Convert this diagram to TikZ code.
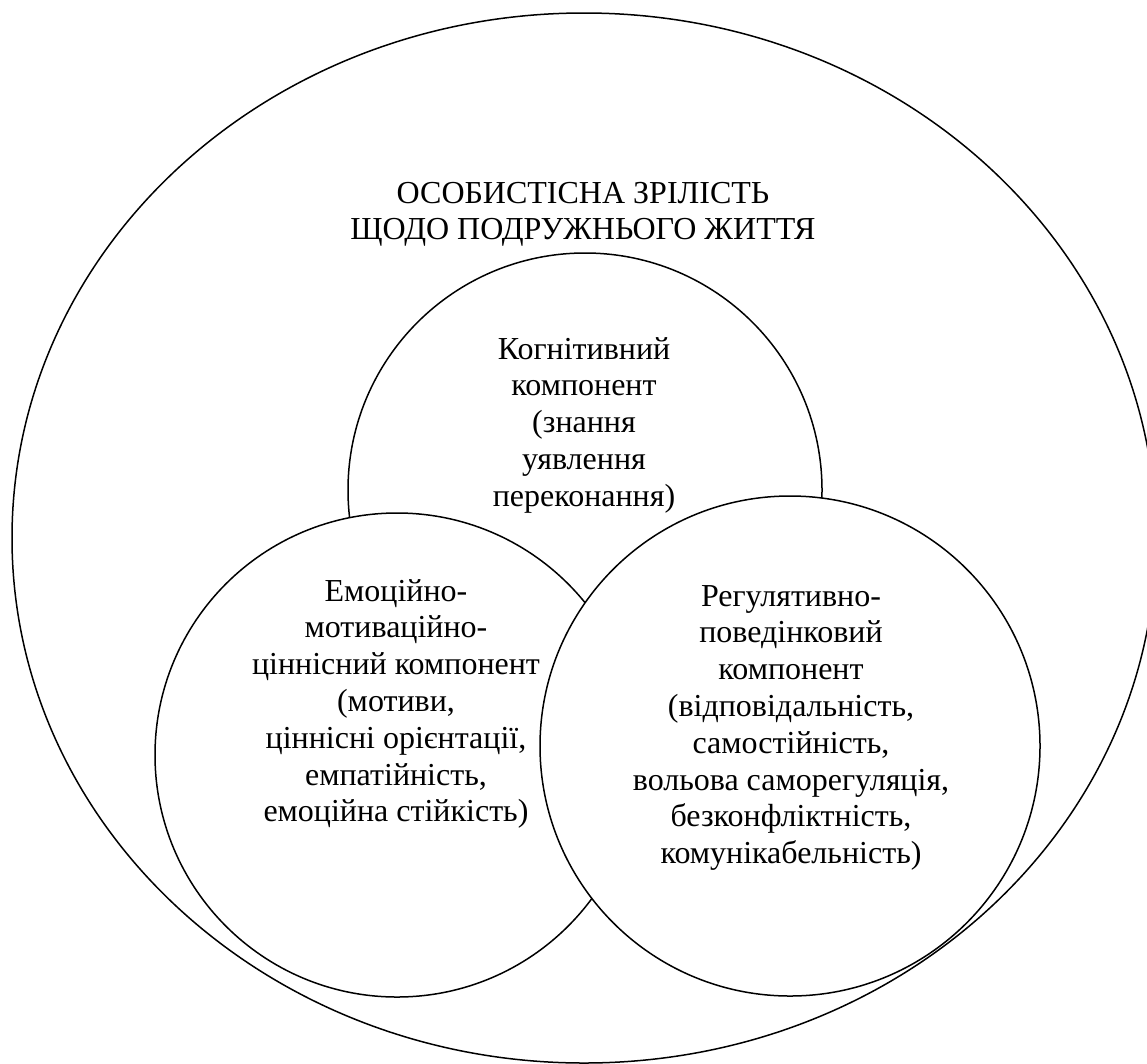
\documentclass[tikz,border=0pt]{standalone}
\usepackage{fontspec}
\setmainfont{Liberation Serif}
\usetikzlibrary{shapes.geometric}
% centred block of lines whose reference point is the first baseline
\newcommand\stacklines[1]{\begin{tabular}[t]{@{}c@{}}#1\end{tabular}}
\begin{document}
\begin{tikzpicture}[x=1pt,y=-1pt,
  ring/.style={draw=black, line width=1.5pt, fill=white, inner sep=0pt},
  disc/.style={ring, circle},
  caption/.style={anchor=base, inner sep=0pt, font=\fontsize{32}{36.8}\selectfont}]
  \useasboundingbox[fill=white] (0,0) rectangle (1147,1063);

  % outer field: personal maturity
  \node[ring, ellipse, minimum width=1144pt, minimum height=1050pt] (outer) at (584,538) {};
  \node[caption] (title) at (583,203)
    {\stacklines{ОСОБИСТІСНА ЗРІЛІСТЬ\\ЩОДО ПОДРУЖНЬОГО ЖИТТЯ}};

  % cognitive component
  \node[disc, minimum size=474pt] (cog) at (585,490) {};
  \node[caption] (cogtext) at (584,359)
    {\stacklines{Когнітивний\\компонент\\(знання\\уявлення\\переконання)}};

  % emotional-motivational-value component
  \node[disc, minimum size=484pt] (emo) at (397,755) {};
  \node[caption] (emotext) at (396,601)
    {\stacklines{Емоційно-\\мотиваційно-\\ціннісний компонент\\(мотиви,\\ціннісні орієнтації,\\емпатійність,\\емоційна стійкість)}};

  % regulative-behavioural component
  \node[disc, minimum size=500pt] (reg) at (790,746) {};
  \node[caption] (regtext) at (791,606)
    {\stacklines{Регулятивно-\\поведінковий\\компонент\\(відповідальність,\\самостійність,\\вольова саморегуляція,\\безконфліктність,\\комунікабельність)}};
\end{tikzpicture}
\end{document}
